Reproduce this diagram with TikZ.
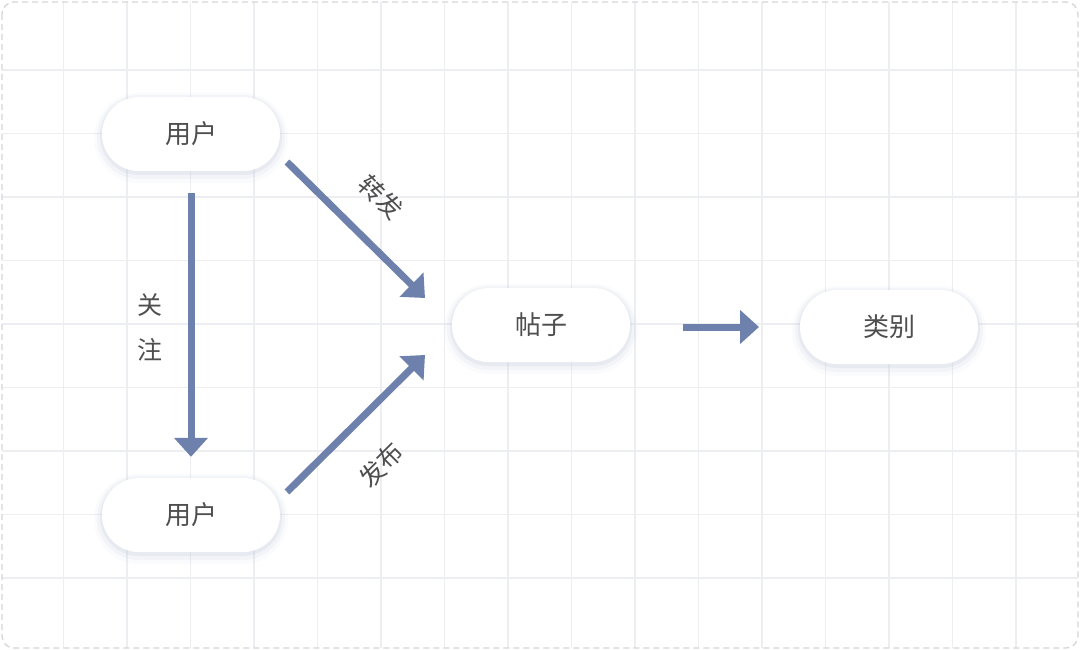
\documentclass[tikz,border=0pt]{standalone}
\usepackage{fontspec}
\newfontfamily\cjk{Noto Sans CJK SC}
\usetikzlibrary{arrows.meta}
\definecolor{gridc}{HTML}{ECEEF2}
\definecolor{framec}{HTML}{D4D6DA}
\definecolor{arrc}{HTML}{6E81AD}
\definecolor{txt}{HTML}{4E4E4E}
\definecolor{shad}{HTML}{B8C0D8}
\tikzset{
  pill/.style={rounded corners=37pt, minimum width=178pt, minimum height=74pt,
    inner sep=0pt, fill=white, text=txt, font=\cjk\fontsize{26}{26}\selectfont,
    preaction={draw=shad, line width=16pt, draw opacity=0.06, transform canvas={yshift=-4pt}},
    preaction={draw=shad, line width=10pt, draw opacity=0.10, transform canvas={yshift=-3pt}},
    preaction={draw=shad, line width=4pt, draw opacity=0.18, transform canvas={yshift=-2pt}}},
  flow/.style={draw=arrc, line width=7pt, -{Triangle[width=33pt,length=19pt]}},
  lbl/.style={text=txt, font=\cjk\fontsize{25}{45}\selectfont, inner sep=0pt, align=center}
}
\begin{document}
\begin{tikzpicture}[x=1pt,y=-1pt]
\useasboundingbox (0,0) rectangle (1080,650);
\fill[white] (0,0) rectangle (1080,650);
% grid
\foreach \i in {1,...,16} {\draw[gridc, line width=1.3pt] (63.5*\i,2) -- (63.5*\i,648);}
\foreach \j in {0,...,8} {\draw[gridc, line width=1.3pt] (2,70+63.5*\j) -- (1078,70+63.5*\j);}
% frame
\draw[framec, line width=1.3pt, dash pattern=on 6pt off 4pt, rounded corners=12pt] (2,2) rectangle (1078,648);
% nodes
\node[pill] (u1) at (191,134) {用户};
\node[pill] (u2) at (191,515) {用户};
\node[pill] (tz) at (541,325) {帖子};
\node[pill] (lb) at (889,327) {类别};
% connector end points
\coordinate (a1s) at (287,162);
\coordinate (a1e) at (425,298);
\coordinate (a2s) at (287,492);
\coordinate (a2e) at (425,355);
\coordinate (a3s) at (683,327);
\coordinate (a3e) at (759,327);
% connectors
\draw[flow, shorten <=22pt, shorten >=21pt] (u1.south) -- (u2.north);
\draw[flow] (a1s) -- (a1e);
\draw[flow] (a2s) -- (a2e);
\draw[flow] (a3s) -- (a3e);
% labels
\node[lbl] (l1) at (150,327) {关\\注};
\node[lbl, rotate=-45] (l2) at (381,197) {转发};
\node[lbl, rotate=45] (l3) at (381,465) {发布};
\end{tikzpicture}
\end{document}
